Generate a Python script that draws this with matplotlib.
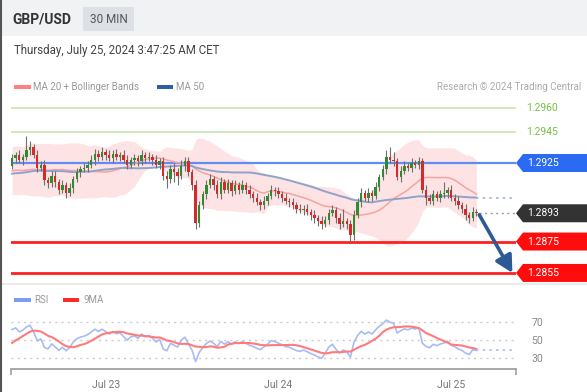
import numpy as np
import pandas as pd
import matplotlib
matplotlib.use("Agg")
import matplotlib.pyplot as plt
from matplotlib.patches import Polygon, Rectangle

plt.rcParams['font.family'] = ['Roboto', 'DejaVu Sans']

# 30 min candles, Jul 22 11:00 -> Jul 25 03:30 (CET)
history_closes = [
    1.2915, 1.2918, 1.2920, 1.2917, 1.2914, 1.2912, 1.2915, 1.2919, 1.2921, 1.2918,
    1.2916, 1.2913, 1.2911, 1.2914, 1.2917, 1.2920, 1.2922, 1.2919, 1.2916, 1.2918,
    1.2920, 1.2917, 1.2915, 1.2913, 1.2916, 1.2919, 1.2921, 1.2918, 1.2916, 1.2919,
    1.2922, 1.2928, 1.2932, 1.2927, 1.2930, 1.2925, 1.2928, 1.2923, 1.2920, 1.2915,
    1.2912, 1.2909, 1.2910, 1.2908, 1.2912, 1.2913, 1.2916, 1.2919, 1.2923,
]
closes = [
    1.2928, 1.2930, 1.2927, 1.2929, 1.2933, 1.2935, 1.2930, 1.2922, 1.2924, 1.2914,
    1.2912, 1.2917, 1.2913, 1.2908, 1.2911, 1.2906, 1.2909, 1.2915, 1.2919, 1.2921,
    1.2922, 1.2924, 1.2927, 1.2931, 1.2929, 1.2932, 1.2930, 1.2928, 1.2931, 1.2929,
    1.2930, 1.2927, 1.2924, 1.2927, 1.2928, 1.2926, 1.2930, 1.2928, 1.2929, 1.2927,
    1.2924, 1.2926, 1.2917, 1.2915, 1.2921, 1.2919, 1.2917, 1.2923, 1.2926, 1.2919,
    1.2911, 1.2887, 1.2898, 1.2905, 1.2911, 1.2915, 1.2911, 1.2905, 1.2913, 1.2908,
    1.2912, 1.2907, 1.2911, 1.2908, 1.2911, 1.2908, 1.2905, 1.2903, 1.2900, 1.2898,
    1.2901, 1.2904, 1.2908, 1.2907, 1.2905, 1.2903, 1.2901, 1.2900, 1.2898, 1.2896,
    1.2895, 1.2896, 1.2894, 1.2892, 1.2890, 1.2888, 1.2886, 1.2889, 1.2893, 1.2895,
    1.2890, 1.2886, 1.2888, 1.2886, 1.2879, 1.2892, 1.2900, 1.2906, 1.2903, 1.2906,
    1.2904, 1.2910, 1.2916, 1.2921, 1.2929, 1.2927, 1.2926, 1.2916, 1.2920, 1.2923,
    1.2922, 1.2925, 1.2924, 1.2926, 1.2908, 1.2903, 1.2901, 1.2905, 1.2903, 1.2905,
    1.2906, 1.2908, 1.2903, 1.2901, 1.2898, 1.2896, 1.2892, 1.2890, 1.2894, 1.2893,
]
# wick lengths in pips beyond the body
upper_wick = [
    3, 2, 3, 2, 9, 4, 2, 3, 2, 3,   2, 3, 3, 2, 3, 2, 3, 2, 3, 2,
    3, 2, 3, 3, 2, 3, 2, 3, 2, 3,   2, 3, 3, 2, 3, 2, 3, 2, 3, 2,
    3, 2, 3, 3, 3, 4, 3, 4, 3, 3,   2, 3, 3, 2, 3, 3, 2, 3, 3, 2,
    3, 2, 3, 2, 3, 2, 3, 2, 3, 2,   3, 2, 3, 2, 3, 2, 3, 2, 3, 2,
    3, 2, 3, 2, 3, 2, 3, 2, 3, 3,   2, 3, 8, 2, 3, 3, 3, 3, 2, 3,
    2, 3, 2, 3, 4, 6, 5, 2, 3, 3,   2, 3, 2, 3, 2, 3, 2, 3, 2, 3,
    7, 2, 3, 2, 3, 2, 3, 2, 3, 2,
]
lower_wick = [
    2, 3, 2, 3, 2, 3, 2, 3, 2, 3,   3, 2, 3, 3, 2, 3, 2, 3, 2, 3,
    2, 3, 2, 3, 3, 2, 3, 2, 3, 2,   3, 2, 3, 2, 3, 3, 2, 3, 2, 3,
    2, 3, 3, 6, 3, 6, 6, 2, 3, 2,   3, 4, 3, 2, 3, 2, 3, 2, 3, 2,
    2, 3, 2, 3, 2, 3, 2, 3, 2, 3,   2, 3, 2, 3, 2, 3, 2, 3, 2, 3,
    2, 3, 2, 3, 3, 3, 3, 2, 3, 2,   3, 3, 2, 3, 4, 3, 2, 3, 2, 3,
    3, 2, 3, 2, 3, 2, 3, 2, 3, 2,   2, 3, 2, 3, 2, 5, 2, 3, 2, 3,
    2, 3, 2, 3, 2, 3, 3, 3, 2, 2,
]
date_ticks = [26, 74, 122]
date_labels = ['Jul 23', 'Jul 24', 'Jul 25']
resistances = [1.2960, 1.2945]
pivot = 1.2925
supports = [1.2875, 1.2855]
rsi_levels = [30, 50, 70]

W, H = 587, 392
fig = plt.figure(figsize=(W / 100, H / 100), dpi=100)
fig.patch.set_facecolor('white')

# background / header layer in pixel units
ov = fig.add_axes([0, 0, 1, 1])
ov.set_xlim(0, W)
ov.set_ylim(H, 0)
ov.axis('off')
ov.set_zorder(0)
ov.add_patch(Rectangle((0, 0), W, 36, color='#f1f2f4', lw=0))
ov.add_patch(Rectangle((83, 7), 51, 24, color='#dde0e5', lw=0))
ov.text(12, 19.5, 'GBP/USD', fontsize=10, weight='bold', color='#333333', va='center')
ov.text(108.5, 19.5, '30 MIN', fontsize=8.5, color='#555555', ha='center', va='center')
ov.text(14, 50, 'Thursday, July 25, 2024 3:47:25 AM CET', fontsize=8.3,
        color='#444444', va='center')
ov.add_patch(Rectangle((14, 85), 17, 4, color='#ff8080', lw=0))
ov.text(33, 87, 'MA 20 + Bollinger Bands', fontsize=7, color='#999999', va='center')
ov.add_patch(Rectangle((157, 85), 16, 4, color='#2f5ea8', lw=0))
ov.text(176, 87, 'MA 50', fontsize=7, color='#999999', va='center')
ov.text(581, 87, 'Research \u00a9 2024 Trading Central', fontsize=7, color='#aaaaaa',
        ha='right', va='center')
ov.add_patch(Rectangle((14, 298), 17, 4, color='#7b9cf0', lw=0))
ov.text(34, 300, 'RSI', fontsize=7, color='#999999', va='center')
ov.add_patch(Rectangle((63, 298), 16, 4, color='#ff2a2a', lw=0))
ov.text(83, 300, '9MA', fontsize=7, color='#999999', va='center')
ov.axhline(283.5, color='#e8ecef', lw=1.5)
ov.axvline(0.7, color='#555555', lw=1.5)

# price panel
all_close = pd.Series(history_closes + closes)
n_hist = len(history_closes)
ma20 = all_close.rolling(20).mean().values[n_hist:]
sd20 = all_close.rolling(20).std(ddof=0).values[n_hist:]
ma50 = all_close.rolling(50).mean().values[n_hist:]

c = np.array(closes)
o = np.array([history_closes[-1]] + closes[:-1])
hi = np.maximum(o, c) + np.array(upper_wick) * 0.0001
lo = np.minimum(o, c) - np.array(lower_wick) * 0.0001
x = np.arange(len(c))
x_right = 140

ax = fig.add_axes([11 / W, 1 - 283 / H, 505 / W, 188 / H])
ax.set_zorder(2)
ax.set_facecolor('none')
ax.set_xlim(-0.3, x_right)
ax.set_ylim(1.28486, 1.29683)
ax.axis('off')

ax.fill_between(x, ma20 - 2 * sd20, ma20 + 2 * sd20, color='#fde3e3', lw=0, zorder=1)
ax.plot(x, ma20, color='#f7a3a3', lw=1.1, zorder=2)
ax.plot(x, ma50, color='#8fa3ca', lw=1.4, zorder=2)
ax.hlines(ma50[-1], x[-1], x_right, colors='#9fb3da', linestyles=(0, (1.5, 2.5)), lw=1.2)

for lv in resistances:
    ax.axhline(lv, color='#c2e3ad', lw=1.1, zorder=1.5)
ax.axhline(pivot, color='#5f8cf6', lw=1.6, zorder=1.5)
for lv in supports:
    ax.axhline(lv, color='#ff1f1f', lw=2, zorder=1.5)

up = c >= o
ax.vlines(x, lo, hi, colors='#6f6f6f', lw=0.8, zorder=3)
body = np.maximum(np.abs(c - o), 0.00006)
ax.bar(x, body, bottom=np.minimum(o, c), width=0.66,
       color=np.where(up, '#2e8b2e', '#d42a2a'), lw=0, zorder=4)

ax.hlines(c[-1], x[-1] + 0.8, x_right, colors='#999999', linestyles=(0, (1.5, 2.5)), lw=1)
ax.annotate('', xy=(x_right - 1, supports[-1]), xytext=(x[-1] + 0.8, c[-1] - 0.0001),
            arrowprops=dict(arrowstyle='-|>,head_width=0.45,head_length=0.85',
                            color='#2d5a96', lw=2.6, mutation_scale=12,
                            shrinkA=0, shrinkB=0), zorder=5)


def price_y(p):
    return H - ax.transData.transform((0, p))[1]


for lv in resistances:
    ov.text(526, price_y(lv), f'{lv:.4f}', fontsize=7.5, color='#79bf45', va='center')


def tag(p, color):
    yc = price_y(p)
    pts = [(516, yc), (523, yc - 9), (W, yc - 9), (W, yc + 9), (523, yc + 9)]
    ov.add_patch(Polygon(pts, closed=True, color=color, lw=0))
    ov.text(527, yc, f'{p:.4f}', fontsize=7.5, color='white', va='center')


tag(pivot, '#2b6bf3')
tag(c[-1], '#333333')
for lv in supports:
    tag(lv, '#ff0d0d')

# RSI panel
delta = all_close.diff().fillna(0)
gain = delta.clip(lower=0).ewm(alpha=1 / 14, adjust=False).mean()
loss = (-delta.clip(upper=0)).ewm(alpha=1 / 14, adjust=False).mean()
rsi_all = 100 - 100 / (1 + gain / loss)
rsi_ma_all = rsi_all.rolling(9).mean()
rsi = rsi_all.values[n_hist:]
rsi_ma = rsi_ma_all.values[n_hist:]

ax2 = fig.add_axes([11 / W, 1 - 369 / H, 505 / W, 64 / H])
ax2.set_zorder(2)
ax2.set_facecolor('none')
ax2.set_xlim(-0.3, x_right)
ax2.set_ylim(17.8, 88.9)
for lv in rsi_levels:
    ax2.axhline(lv, color='#cccccc', lw=1, linestyle=(0, (1.5, 3)))
ax2.plot(x, rsi, color='#a8bcf3', lw=1.2)
ax2.plot(x, rsi_ma, color='#ff7b7b', lw=1.5)
ax2.hlines(rsi[-1], x[-1], x_right, colors='#a8bcf3', linestyles=(0, (1.5, 2.5)), lw=1.2)

for s in ['top', 'left', 'right']:
    ax2.spines[s].set_visible(False)
ax2.spines['bottom'].set_color('#a0a0a0')
ax2.spines['bottom'].set_linewidth(1.3)
ax2.set_xticks(date_ticks)
ax2.set_xticklabels(date_labels)
ax2.set_xticks([-0.3, x_right], minor=True)
ax2.tick_params(axis='x', which='major', length=0, pad=8, labelsize=7.5, labelcolor='#777777')
ax2.tick_params(axis='x', which='minor', length=4, width=1.2, color='#a0a0a0')
ax2.yaxis.tick_right()
ax2.set_yticks(rsi_levels)
ax2.tick_params(axis='y', length=0, pad=11, labelsize=7.5, labelcolor='#888888')

fig.savefig('out.png', dpi=100)
